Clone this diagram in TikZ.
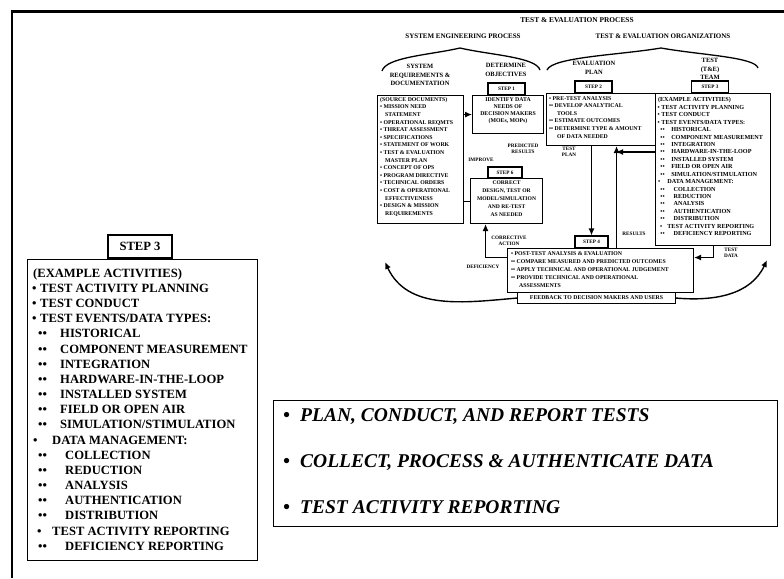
\documentclass[tikz,border=0pt]{standalone}
\usepackage{fontspec}
\setmainfont{Liberation Serif}
\usetikzlibrary{positioning,calc,arrows.meta}
\newcommand*{\rowfont}{\bfseries\fontsize{12.6}{15}\selectfont}
\tikzset{%
  frame/.style={line width=2.4pt},% page border
  bigbox/.style={draw, line width=1.4pt, inner sep=0pt},
  tab/.style={draw, line width=1.1pt, minimum width=37, minimum height=12, inner sep=0pt,
    font=\bfseries\fontsize{5.2}{5}\selectfont},% STEP n tabs
  dbox/.style={draw, line width=1.1pt, inner sep=0pt},% boxes of the small chart
  tiny/.style={font=\bfseries\fontsize{5.8}{7.6}\selectfont, inner sep=0pt},
  colhead/.style={tiny, align=center, font=\bfseries\fontsize{6.5}{8.5}\selectfont},
  head/.style={tiny, font=\bfseries\fontsize{7}{8}\selectfont},
  lbl/.style={tiny, align=center, font=\bfseries\fontsize{5.2}{6.5}\selectfont},
  row/.style={anchor=base west, inner sep=0pt, font=\rowfont},
  goal/.style={anchor=base west, inner sep=0pt, font=\bfseries\itshape\fontsize{19.5}{22}\selectfont},
  flow/.style={line width=1.1pt, -{Latex[length=7pt,width=6pt]}},
  brace/.style={line width=1.3pt},
}
% rows of the step 3 list, origin at the box corner
\newcommand*{\steprows}[1]{%
  \foreach \bx/\b/\tx/\t [count=\i from 0] in {%
    0/{}/6/{(EXAMPLE ACTIVITIES)},
    5/\textbullet/13/{TEST ACTIVITY PLANNING},
    5/\textbullet/13/{TEST CONDUCT},
    5/\textbullet/13/{TEST EVENTS/DATA TYPES:},
    11/{\textbullet\textbullet}/33/{HISTORICAL},
    11/{\textbullet\textbullet}/33/{COMPONENT MEASUREMENT},
    11/{\textbullet\textbullet}/33/{INTEGRATION},
    11/{\textbullet\textbullet}/33/{HARDWARE-IN-THE-LOOP},
    11/{\textbullet\textbullet}/33/{INSTALLED SYSTEM},
    11/{\textbullet\textbullet}/33/{FIELD OR OPEN AIR},
    11/{\textbullet\textbullet}/33/{SIMULATION/STIMULATION},
    6/\textbullet/25/{DATA MANAGEMENT:},
    11/{\textbullet\textbullet}/38/{COLLECTION},
    11/{\textbullet\textbullet}/38/{REDUCTION},
    11/{\textbullet\textbullet}/38/{ANALYSIS},
    11/{\textbullet\textbullet}/38/{AUTHENTICATION},
    11/{\textbullet\textbullet}/38/{DISTRIBUTION},
    10/\textbullet/25/{TEST ACTIVITY REPORTING},
    11/{\textbullet\textbullet}/38/{DEFICIENCY REPORTING}%
  }{%
    \node[row] (#1b\i) at (\bx, 18.2+15.17*\i) {\b};
    \node[row] (#1t\i) at (\tx, 18.2+15.17*\i) {\t};
  }}

\begin{document}
\begin{tikzpicture}[x=1pt, y=-1pt]
\useasboundingbox (0,0) rectangle (784,578);
\draw[frame] (12,578) -- (12,11.5) -- (784,11.5);

% enlarged step 3
\node[tab, minimum width=64, minimum height=23, font=\rowfont] (tabbig) at (140,246.5) {STEP 3};
\node[bigbox, anchor=north west, minimum width=230, minimum height=301] (stepbig) at (27,259) {};
\begin{scope}[shift={(stepbig.north west)}]
  \steprows{l}
\end{scope}

% what step 3 does
\node[bigbox, anchor=north west, minimum width=504, minimum height=126] (goals) at (273,400) {};
\foreach \t [count=\i from 0] in {{PLAN, CONDUCT, AND REPORT TESTS},
    {COLLECT, PROCESS \& AUTHENTICATE DATA}, {TEST ACTIVITY REPORTING}} {
  \node[goal] (gb\i) at (283, 421.4+46*\i) {\textbullet};
  \node[goal] (gt\i) at (300, 421.4+46*\i) {\t};
}

% small chart of the whole process
\node[head, font=\bfseries\fontsize{7.4}{8}\selectfont] (title) at (577,20) {TEST \& EVALUATION PROCESS};
\node[head] (lefthead) at (463,36) {SYSTEM ENGINEERING PROCESS};
\node[head] (righthead) at (663,36) {TEST \& EVALUATION ORGANIZATIONS};
\draw[brace] (382,71) .. controls (386,57) and (430,55) .. (460,48)
  .. controls (490,55) and (536,57) .. (540,70);
\draw[brace] (547,70) .. controls (552,57) and (620,55) .. (661,48)
  .. controls (700,55) and (755,57) .. (758,68);

\node[colhead] (h1) at (420,75) {SYSTEM\\REQUIREMENTS \&\\DOCUMENTATION};
\node[colhead] (h2) at (506,70) {DETERMINE\\OBJECTIVES};
\node[colhead] (h3) at (594,68) {EVALUATION\\PLAN};
\node[colhead] (h4) at (710,69) {TEST\\(T\&E)\\TEAM};

\node[dbox, anchor=north west, minimum width=86, minimum height=128] (srcbox) at (377,95) {};
\node[dbox, anchor=north west, minimum width=71, minimum height=38] (objbox) at (472,95) {};
\node[dbox, anchor=north west, minimum width=109, minimum height=52] (prebox) at (546,93) {};
\node[dbox, anchor=north west, minimum width=115, minimum height=152] (testbox) at (655,93) {};
\node[dbox, anchor=north west, minimum width=72, minimum height=45] (fixbox) at (470,178) {};
\node[dbox, anchor=north west, minimum width=186, minimum height=44] (evalbox) at (507,248) {};
\node[dbox, anchor=north west, minimum width=158, minimum height=11, fill=white] (fbbox) at (517,292) {};

\node[tab] (tab1) at (506.5,89) {STEP 1};
\node[tab] (tab2) at (593.5,87) {STEP 2};
\node[tab] (tab3) at (710,87) {STEP 3};
\node[tab, minimum width=34, minimum height=11] (tab6) at (505,172.5) {STEP 6};
\node[tab, minimum width=33] (tab4) at (591.5,242) {STEP 4};

\node[tiny, align=left, below right=2pt and 3pt of srcbox.north west] (srctext)
  {(SOURCE DOCUMENTS)\\\textbullet\ MISSION NEED\\\hspace*{5pt}STATEMENT\\
   \textbullet\ OPERATIONAL REQMTS\\\textbullet\ THREAT ASSESSMENT\\
   \textbullet\ SPECIFICATIONS\\\textbullet\ STATEMENT OF WORK\\
   \textbullet\ TEST \& EVALUATION\\\hspace*{5pt}MASTER PLAN\\
   \textbullet\ CONCEPT OF OPS\\\textbullet\ PROGRAM DIRECTIVE\\
   \textbullet\ TECHNICAL ORDERS\\\textbullet\ COST \& OPERATIONAL\\
   \hspace*{5pt}EFFECTIVENESS\\\textbullet\ DESIGN \& MISSION\\
   \hspace*{5pt}REQUIREMENTS};
\node[tiny, align=center, below=2pt of objbox.north, font=\bfseries\fontsize{5.8}{7.2}\selectfont] (objtext)
  {IDENTIFY DATA\\NEEDS OF\\DECISION MAKERS\\(MOEs, MOPs)};
\node[tiny, align=left, below right=3pt and 3pt of prebox.north west] (pretext)
  {\textbullet\ PRE-TEST ANALYSIS\\\textbullet\textbullet\ DEVELOP ANALYTICAL\\
   \hspace*{8pt}TOOLS\\\textbullet\textbullet\ ESTIMATE OUTCOMES\\
   \textbullet\textbullet\ DETERMINE TYPE \& AMOUNT\\\hspace*{8pt}OF DATA NEEDED};
\node[tiny, align=center, below=3pt of fixbox.north, font=\bfseries\fontsize{5.6}{8}\selectfont] (fixtext)
  {CORRECT\\DESIGN, TEST OR\\MODEL/SIMULATION\\AND RE-TEST\\AS NEEDED};
\node[tiny, align=left, below right=3pt and 4pt of evalbox.north west, font=\bfseries\fontsize{5.8}{8}\selectfont] (evaltext)
  {\textbullet\ POST-TEST ANALYSIS \& EVALUATION\\
   \textbullet\textbullet\ COMPARE MEASURED AND PREDICTED OUTCOMES\\
   \textbullet\textbullet\ APPLY TECHNICAL AND OPERATIONAL JUDGEMENT\\
   \textbullet\textbullet\ PROVIDE TECHNICAL AND OPERATIONAL\\
   \hspace*{8pt}ASSESSMENTS};
\node[tiny] (fbtext) at (fbbox) {FEEDBACK TO DECISION MAKERS AND USERS};
\begin{scope}[shift={(testbox.north west)}, scale=0.49, transform shape]
  \steprows{s}
\end{scope}

\node[lbl] (l1) at (481,160) {IMPROVE};
\node[lbl] (l2) at (523,149) {PREDICTED\\RESULTS};
\node[lbl] (l3) at (569,152) {TEST\\PLAN};
\node[lbl] (l4) at (634,234) {RESULTS};
\node[lbl] (l5) at (731,253) {TEST\\DATA};
\node[lbl] (l6) at (509,241) {CORRECTIVE\\ACTION};
\node[lbl] (l7) at (483,267) {DEFICIENCY};

\coordinate (joinup) at (616,152);
\coordinate (leftup) at (385,262);
\coordinate (rightup) at (767,260);
\draw[flow] (srcbox.east |- objbox.west) -- (objbox.west);
\draw[line width=1.1pt] (srcbox.east |- fixbox.west) -- (fixbox.west);
\draw[flow] (tab4.north |- prebox.south) -- (tab4.north);
\draw[flow] ([xshift=16pt]evalbox.north) -- ([xshift=16pt]evalbox.north |- prebox.south);
\draw[flow] (testbox.west |- joinup) -- (joinup);
\draw[flow] (testbox.south) |- ([yshift=13pt]evalbox.east);
\draw[flow] ([yshift=13pt]evalbox.west) -| ([xshift=-21pt]fixbox.south);
\draw[flow, line width=1.4pt] (fbbox.west) to[out=185, in=-65] (leftup);
\draw[flow, line width=1.4pt] (fbbox.east) to[out=-5, in=-115] (rightup);
\end{tikzpicture}
\end{document}
